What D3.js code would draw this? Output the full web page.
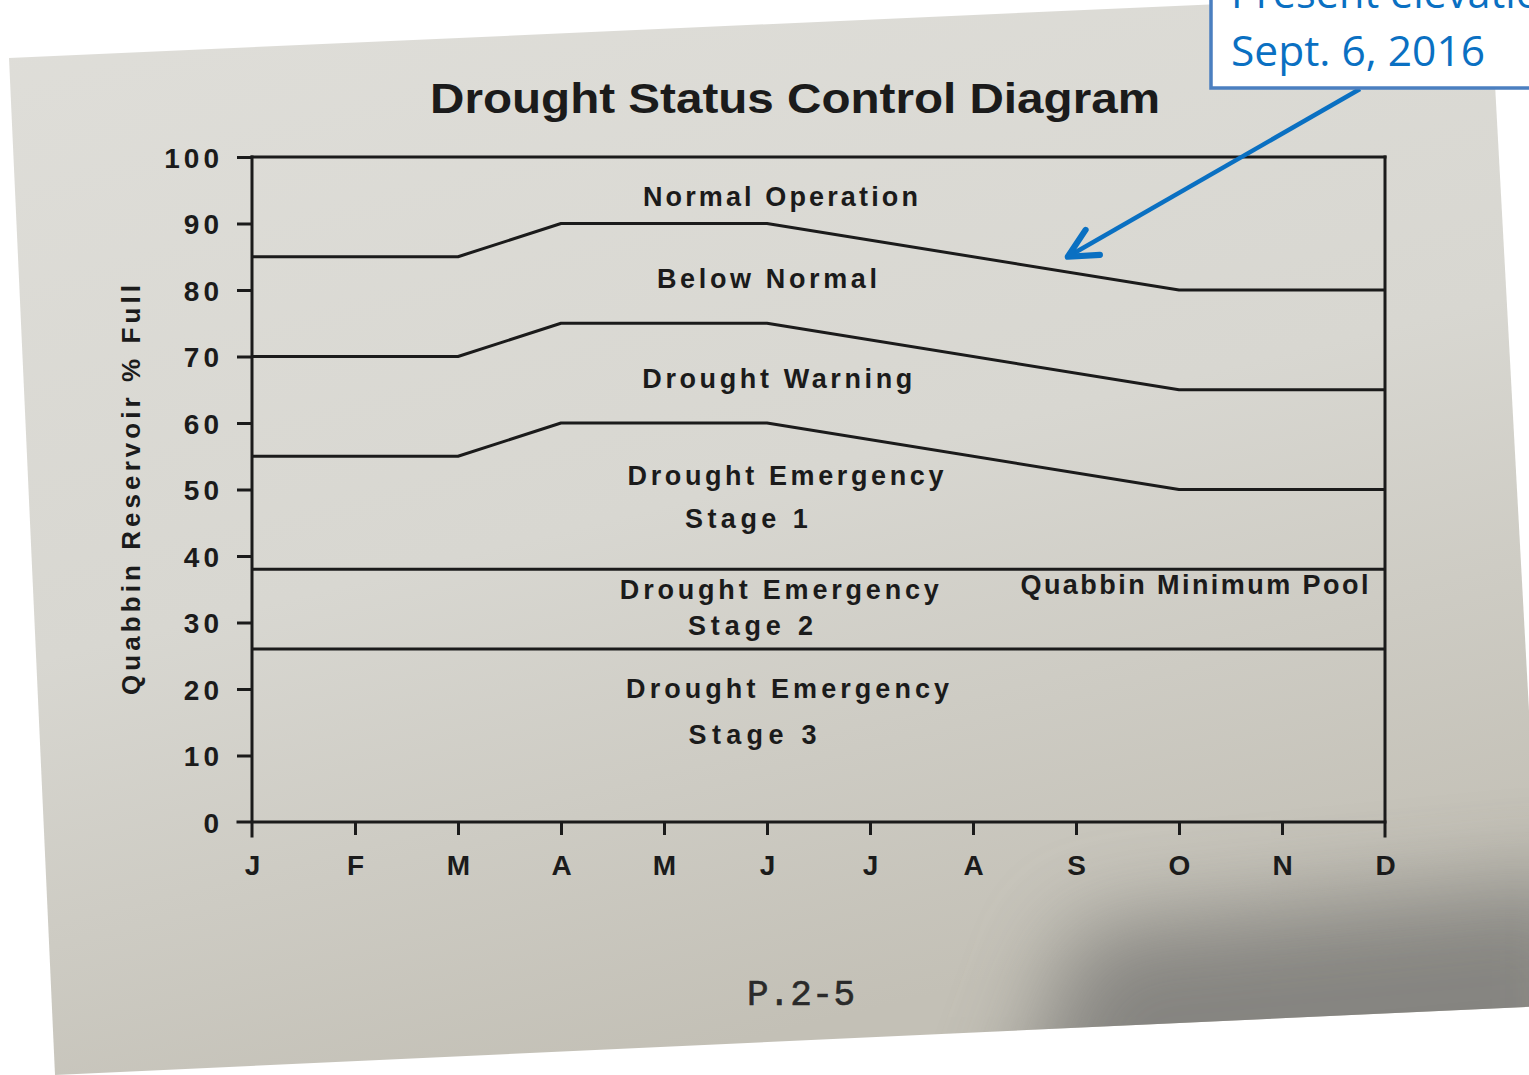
<!DOCTYPE html>
<html>
<head>
<meta charset="utf-8">
<script src="https://cdn.jsdelivr.net/npm/d3@7"></script>
<style>
  html, body { margin: 0; padding: 0; background: #ffffff; }
  svg { display: block; }
</style>
</head>
<body>
<svg id="chart" width="1529" height="1075"></svg>
<script>
// ---------------- DATA ----------------
const months = ["J","F","M","A","M","J","J","A","S","O","N","D"];
const yTickValues = [0,10,20,30,40,50,60,70,80,90,100];
// breakpoints (month index, 0 = Jan 1) where the boundary lines bend
const breakMonths = [0, 2, 3, 5, 9, 11];
const normalBoundary    = [85, 85, 90, 90, 80, 80]; // Normal Operation / Below Normal
const warningBoundary   = [70, 70, 75, 75, 65, 65]; // Below Normal / Drought Warning
const emergencyBoundary = [55, 55, 60, 60, 50, 50]; // Drought Warning / Emergency Stage 1
const minimumPool       = [38, 38, 38, 38, 38, 38]; // Quabbin Minimum Pool
const stage3Boundary    = [26, 26, 26, 26, 26, 26]; // Stage 2 / Stage 3
const zoneTexts = ["Normal Operation","Below Normal","Drought Warning","Drought Emergency","Stage 1",
                   "Drought Emergency","Stage 2","Quabbin Minimum Pool","Drought Emergency","Stage 3"];
const titleText = "Drought Status Control Diagram";
const yAxisTitle = "Quabbin Reservoir % Full";
const pageLabel = "P.2-5";
const annotationLines = ["Present elevation", "Sept. 6, 2016"];
const presentLevel = { month: 7.92, value: 85 }; // arrow tip

// ---------------- LAYOUT ----------------
const svg = d3.select("#chart");
const x = d3.scaleLinear().domain([0, 11]).range([252, 1385]);
const y = d3.scaleLinear().domain([0, 100]).range([822, 157]);
const ink = "#1b1b1b";

// label placement (month, value, width)
const zoneLayout = [
  [5.13, 92.6, 275], [5.0, 80.3, 220], [5.1, 65.2, 270], [5.18, 50.7, 316], [4.8, 44.2, 123],
  [5.12, 33.6, 319], [4.84, 28.1, 125], [9.15, 34.3, 348], [5.2, 18.7, 323], [4.86, 11.8, 128]
];

const defs = svg.append("defs");
const pg = defs.append("linearGradient").attr("id","paper").attr("x1","0").attr("y1","0").attr("x2","0.35").attr("y2","1");
pg.append("stop").attr("offset","0").attr("stop-color","#dfded9");
pg.append("stop").attr("offset","0.55").attr("stop-color","#d8d7d1");
pg.append("stop").attr("offset","1").attr("stop-color","#c3c0b6");
defs.append("filter").attr("id","blur").attr("x","-0.5").attr("y","-0.5").attr("width","2").attr("height","2")
  .append("feGaussianBlur").attr("stdDeviation", 45);
defs.append("clipPath").attr("id","pageclip").append("polygon")
  .attr("points","9,58 1490,-8 1545,1006 55,1075");

// paper
const page = svg.append("g").attr("clip-path","url(#pageclip)");
page.append("rect").attr("x",0).attr("y",-10).attr("width",1560).attr("height",1100).attr("fill","url(#paper)");
page.append("polygon").attr("points","1080,930 1600,880 1600,1150 1000,1150")
  .attr("fill","#7f7e7a").attr("opacity",0.9).attr("filter","url(#blur)");

// ---------------- CHART ----------------
const g = svg.append("g");

// title
g.append("text").attr("x", 795).attr("y", 113).attr("text-anchor","middle")
  .attr("font-family","Liberation Sans, Arial, sans-serif").attr("font-weight","bold")
  .attr("font-size", 42).attr("fill", ink)
  .attr("textLength", 730).attr("lengthAdjust","spacingAndGlyphs").text(titleText);

// frame
const frame = g.append("g").attr("fill","none").attr("stroke", ink).attr("stroke-width", 3).attr("stroke-linecap","square");
frame.append("line").attr("x1", x(0)).attr("x2", x(11)).attr("y1", y(100)).attr("y2", y(100));
frame.append("line").attr("x1", x(0)).attr("x2", x(0)).attr("y1", y(100)).attr("y2", y(0) + 14);
frame.append("line").attr("x1", x(11)).attr("x2", x(11)).attr("y1", y(100)).attr("y2", y(0) + 14);
frame.append("line").attr("x1", x(0) - 14).attr("x2", x(11)).attr("y1", y(0)).attr("y2", y(0));

// axes
const yAxis = g.append("g").attr("transform", `translate(${x(0)},0)`)
  .call(d3.axisLeft(y).tickValues(yTickValues).tickSize(15).tickPadding(14).tickFormat(d3.format("d")));
const xAxis = g.append("g").attr("transform", `translate(0,${y(0)})`)
  .call(d3.axisBottom(x).tickValues(d3.range(months.length)).tickSize(13).tickPadding(20).tickFormat(i => months[i]));
[yAxis, xAxis].forEach(a => {
  a.select(".domain").remove();
  a.selectAll(".tick line").attr("stroke", ink).attr("stroke-width", 3);
  a.selectAll(".tick text").attr("fill", ink)
    .attr("font-family","Liberation Sans, Arial, sans-serif").attr("font-weight","bold").attr("font-size", 28);
});
yAxis.selectAll(".tick text").attr("letter-spacing", "4px").attr("dy","0.36em");
yAxis.selectAll(".tick").filter(d => d === 0).select("line").remove();
xAxis.selectAll(".tick").filter(d => d === 0 || d === 11).select("line").remove();

// y-axis title
g.append("text").attr("transform", "translate(140,490) rotate(-90)").attr("text-anchor","middle")
  .attr("font-family","Liberation Sans, Arial, sans-serif").attr("font-weight","bold").attr("font-size", 26)
  .attr("fill", ink).attr("textLength", 410).attr("lengthAdjust","spacing").text(yAxisTitle);

// boundary lines
const line = d3.line().x((d, i) => x(breakMonths[i])).y(d => y(d));
[normalBoundary, warningBoundary, emergencyBoundary, minimumPool, stage3Boundary].forEach(series => {
  g.append("path").datum(series).attr("d", line).attr("fill","none")
    .attr("stroke", ink).attr("stroke-width", 3).attr("stroke-linejoin","round");
});

// zone labels
zoneTexts.forEach((t, i) => {
  const [m, v, w] = zoneLayout[i];
  g.append("text").attr("x", x(m)).attr("y", y(v)).attr("text-anchor","middle")
    .attr("font-family","Liberation Sans, Arial, sans-serif").attr("font-weight","bold").attr("font-size", 27)
    .attr("fill", ink).attr("textLength", w).attr("lengthAdjust","spacing").text(t);
});

// page number
g.append("text").attr("x", 801).attr("y", 1005).attr("text-anchor","middle")
  .attr("font-family","Liberation Mono, Courier New, monospace").attr("font-size", 36)
  .attr("fill", "#2a2a2a").attr("stroke", "#2a2a2a").attr("stroke-width", 0.6).text(pageLabel);

// ---------------- ANNOTATION ----------------
const blue = "#0a70c2";
defs.append("marker").attr("id","arrow").attr("viewBox","0 0 20 20").attr("refX",18).attr("refY",10)
  .attr("markerWidth",8).attr("markerHeight",8).attr("orient","auto").attr("markerUnits","strokeWidth")
  .append("path").attr("d","M2,2 L18,10 L2,18").attr("fill","none").attr("stroke",blue)
  .attr("stroke-width",3.4).attr("stroke-linecap","round").attr("stroke-linejoin","round");
svg.append("line").attr("x1", 1360).attr("y1", 89)
  .attr("x2", x(presentLevel.month)).attr("y2", y(presentLevel.value))
  .attr("stroke", blue).attr("stroke-width", 4.5).attr("marker-end","url(#arrow)");

svg.append("rect").attr("x", 1211).attr("y", -20).attr("width", 340).attr("height", 108)
  .attr("fill","#ffffff").attr("stroke","#4b7fc0").attr("stroke-width", 3.5);
svg.append("text").attr("x", 1231).attr("y", 8)
  .attr("font-family","Open Sans, Liberation Sans, sans-serif").attr("font-size", 42).attr("fill", blue)
  .attr("textLength", 335).attr("lengthAdjust","spacingAndGlyphs").text(annotationLines[0]);
svg.append("text").attr("x", 1231).attr("y", 66)
  .attr("font-family","Open Sans, Liberation Sans, sans-serif").attr("font-size", 42).attr("fill", blue)
  .attr("textLength", 254).attr("lengthAdjust","spacingAndGlyphs").text(annotationLines[1]);
</script>
</body>
</html>
